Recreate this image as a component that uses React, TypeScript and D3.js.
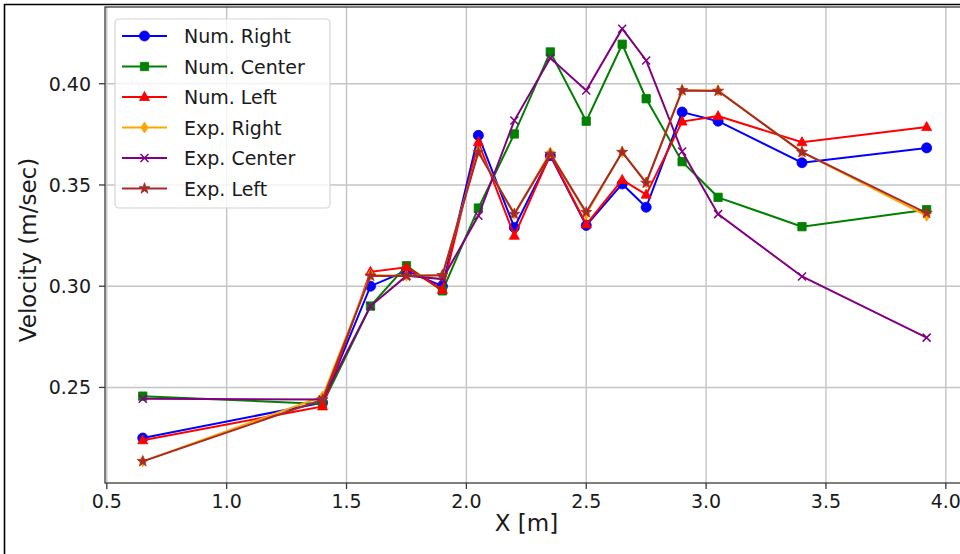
import React, { useEffect, useRef } from "react";
import * as d3 from "d3";

// positions along the channel (m)
const xPos = [0.65, 1.4, 1.6, 1.75, 1.9, 2.05, 2.2, 2.35, 2.5, 2.65, 2.75, 2.9, 3.05, 3.4, 3.92];

const numRight = [0.225, 0.2425, 0.3, 0.3076, 0.3, 0.3745, 0.329, 0.3645, 0.33, 0.3505, 0.339, 0.386, 0.3815, 0.361, 0.3683];
const numCenter = [0.2457, 0.2418, 0.2902, 0.3101, 0.2977, 0.3386, 0.3752, 0.4157, 0.3815, 0.4195, 0.3926, 0.3615, 0.3439, 0.3294, 0.3378];
const numLeft = [0.2239, 0.2406, 0.3071, 0.3093, 0.2982, 0.3711, 0.3249, 0.365, 0.3305, 0.3525, 0.3452, 0.3813, 0.384, 0.3711, 0.3786];
const expRight = [0.2135, 0.2455, 0.3055, 0.3052, 0.3055, 0.3665, 0.3357, 0.366, 0.3357, 0.3663, 0.3512, 0.3968, 0.3967, 0.3662, 0.3348];
const expCenter = [0.2444, 0.244, 0.2902, 0.3051, 0.3035, 0.3348, 0.3818, 0.4127, 0.3967, 0.4272, 0.4115, 0.3665, 0.3356, 0.3048, 0.2746];
const expLeft = [0.2135, 0.244, 0.3051, 0.3051, 0.3054, 0.3662, 0.3356, 0.3653, 0.3365, 0.3662, 0.351, 0.3967, 0.3964, 0.3662, 0.3361];

const seriesNames = ["Num. Right", "Num. Center", "Num. Left", "Exp. Right", "Exp. Center", "Exp. Left"];
const seriesValues = [numRight, numCenter, numLeft, expRight, expCenter, expLeft];
const seriesColors = ["#0000ff", "#008000", "#ff0000", "#ffa500", "#800080", "#a52a2a"];
const seriesMarkers = ["circle", "square", "triangle", "thinDiamond", "x", "star"];

const xTicks = [0.5, 1.0, 1.5, 2.0, 2.5, 3.0, 3.5, 4.0];
const yTicks = [0.25, 0.3, 0.35, 0.4];

const FONT = "DejaVu Sans, sans-serif";

const markerPath = (kind) => {
	switch (kind) {
		case "circle":
			return d3.symbol(d3.symbolCircle, 80)();
		case "square":
			return d3.symbol(d3.symbolSquare, 70)();
		case "triangle":
			return "M0,-5.5L5,3.5L-5,3.5Z";
		case "thinDiamond":
			return "M0,-5.5L3.6,0L0,5.5L-3.6,0Z";
		case "x":
			return "M-4,-4L4,4M-4,4L4,-4";
		case "star":
			return d3.symbol(d3.symbolStar, 38)();
		default:
			return "";
	}
};

const App = () => {
	const svgRef = useRef(null);

	useEffect(() => {
		const svg = d3.select(svgRef.current);
		svg.selectAll("*").remove();

		const left = 105;
		const top = 7;
		const bottom = 483;
		const right = 965;

		const x = d3.scaleLinear().domain([0.4925, 4.08]).range([left, right]);
		const y = d3.scaleLinear().domain([0.2028, 0.4379]).range([bottom, top]);

		svg.append("rect").attr("width", 960).attr("height", 554).attr("fill", "#fff");

		// grid
		const grid = svg.append("g").attr("stroke", "#c4c4c4").attr("stroke-width", 1.4);
		grid
			.selectAll(".gx")
			.data(xTicks)
			.enter()
			.append("line")
			.attr("x1", (d) => x(d))
			.attr("x2", (d) => x(d))
			.attr("y1", top)
			.attr("y2", bottom);
		grid
			.selectAll(".gy")
			.data(yTicks)
			.enter()
			.append("line")
			.attr("x1", left)
			.attr("x2", right)
			.attr("y1", (d) => y(d))
			.attr("y2", (d) => y(d));

		// series
		const line = d3
			.line()
			.x((d) => x(d[0]))
			.y((d) => y(d[1]));

		seriesValues.forEach((vals, i) => {
			const pts = xPos.map((xv, j) => [xv, vals[j]]);
			const g = svg.append("g");
			g.append("path")
				.datum(pts)
				.attr("d", line)
				.attr("fill", "none")
				.attr("stroke", seriesColors[i])
				.attr("stroke-width", 2);
			const isX = seriesMarkers[i] === "x";
			g.selectAll("path.m")
				.data(pts)
				.enter()
				.append("path")
				.attr("class", "m")
				.attr("transform", (d) => `translate(${x(d[0])},${y(d[1])})`)
				.attr("d", markerPath(seriesMarkers[i]))
				.attr("fill", isX ? "none" : seriesColors[i])
				.attr("stroke", seriesColors[i])
				.attr("stroke-width", isX ? 1.5 : 0.8);
		});

		// axes frame
		svg.append("rect")
			.attr("x", left)
			.attr("y", top)
			.attr("width", right - left)
			.attr("height", bottom - top)
			.attr("fill", "none")
			.attr("stroke", "#3a3a3a")
			.attr("stroke-width", 1.3);

		// x axis ticks
		const xa = svg.append("g").attr("font-family", FONT).attr("font-size", 19).attr("fill", "#1a1a1a");
		xTicks.forEach((t) => {
			xa.append("line")
				.attr("x1", x(t))
				.attr("x2", x(t))
				.attr("y1", bottom)
				.attr("y2", bottom + 6)
				.attr("stroke", "#3a3a3a")
				.attr("stroke-width", 1.3);
			xa.append("text")
				.attr("x", x(t))
				.attr("y", bottom + 25)
				.attr("text-anchor", "middle")
				.text(t.toFixed(1));
		});

		// y axis ticks
		const ya = svg.append("g").attr("font-family", FONT).attr("font-size", 19).attr("fill", "#1a1a1a");
		yTicks.forEach((t) => {
			ya.append("line")
				.attr("x1", left - 6)
				.attr("x2", left)
				.attr("y1", y(t))
				.attr("y2", y(t))
				.attr("stroke", "#3a3a3a")
				.attr("stroke-width", 1.3);
			ya.append("text")
				.attr("x", left - 14)
				.attr("y", y(t) + 7)
				.attr("text-anchor", "end")
				.text(t.toFixed(2));
		});

		// axis labels
		svg.append("text")
			.attr("x", (left + 960) / 2 - 6)
			.attr("y", 531)
			.attr("text-anchor", "middle")
			.attr("font-family", FONT)
			.attr("font-size", 23)
			.attr("fill", "#1a1a1a")
			.text("X [m]");
		svg.append("text")
			.attr("transform", "translate(36,250) rotate(-90)")
			.attr("text-anchor", "middle")
			.attr("font-family", FONT)
			.attr("font-size", 23)
			.attr("fill", "#1a1a1a")
			.text("Velocity (m/sec)");

		// legend
		const lg = svg.append("g");
		lg.append("rect")
			.attr("x", 115)
			.attr("y", 19)
			.attr("width", 215)
			.attr("height", 189)
			.attr("rx", 4)
			.attr("fill", "#fff")
			.attr("fill-opacity", 0.8)
			.attr("stroke", "#d4d4d4")
			.attr("stroke-width", 1.2);
		seriesNames.forEach((name, i) => {
			const cy = 36 + i * 30.5;
			lg.append("line")
				.attr("x1", 122)
				.attr("x2", 167)
				.attr("y1", cy)
				.attr("y2", cy)
				.attr("stroke", seriesColors[i])
				.attr("stroke-width", 2);
			const isX = seriesMarkers[i] === "x";
			lg.append("path")
				.attr("transform", `translate(144.5,${cy})`)
				.attr("d", markerPath(seriesMarkers[i]))
				.attr("fill", isX ? "none" : seriesColors[i])
				.attr("stroke", seriesColors[i])
				.attr("stroke-width", isX ? 1.5 : 0.8);
			lg.append("text")
				.attr("x", 184)
				.attr("y", cy + 7)
				.attr("font-family", FONT)
				.attr("font-size", 19)
				.attr("fill", "#1a1a1a")
				.text(name);
		});

		// outer frame of the figure
		svg.append("path")
			.attr("d", "M4.5,554V4.5H960")
			.attr("fill", "none")
			.attr("stroke", "#000")
			.attr("stroke-width", 1.6);
	}, []);

	return (
		<div style={{ position: "absolute", left: 0, top: 0 }}>
			<svg ref={svgRef} width={960} height={554} style={{ display: "block" }}></svg>
		</div>
	);
};

export default App;
